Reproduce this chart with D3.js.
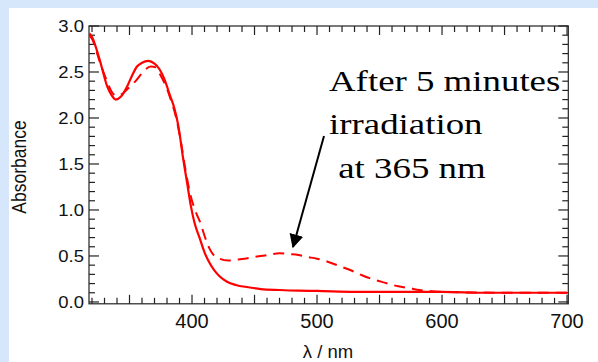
<!DOCTYPE html>
<html>
<head>
<meta charset="utf-8">
<script src="https://cdn.jsdelivr.net/npm/d3@7"></script>
<style>
  html, body { margin: 0; padding: 0; background: #d6e7fb; }
  svg { display: block; }
</style>
</head>
<body>
<svg id="chart" width="598" height="362"></svg>
<script>
// wavelengths (nm) and absorbance for the spectrum before irradiation (solid)
const solidLambda = [318, 320, 326, 332, 336, 339, 343, 348, 352, 356, 360, 365, 370, 374, 378, 382, 386, 389, 393, 396, 399, 402, 406, 410, 413, 418, 422, 428, 435, 445, 455, 470, 485, 500, 530, 560, 600, 618, 620, 660, 700];
const solidAbs    = [2.92, 2.88, 2.64, 2.35, 2.24, 2.20, 2.23, 2.34, 2.46, 2.56, 2.60, 2.62, 2.59, 2.53, 2.42, 2.26, 2.10, 1.92, 1.55, 1.30, 1.05, 0.86, 0.70, 0.54, 0.45, 0.34, 0.28, 0.22, 0.185, 0.16, 0.14, 0.13, 0.123, 0.12, 0.11, 0.11, 0.11, 0.105, 0.10, 0.10, 0.10];

// after 5 minutes irradiation at 365 nm (dashed)
const dashLambda = [318, 320, 326, 332, 336, 340, 344, 348, 352, 356, 362, 367, 371, 375, 379, 383, 387, 391, 395, 399, 403, 407, 410, 414, 418, 422, 429, 436, 442, 450, 460, 470, 478, 485, 492, 500, 508, 518, 526, 536, 545, 554, 565, 574, 582, 590, 600, 620, 660, 700];
const dashAbs    = [2.90, 2.86, 2.62, 2.40, 2.28, 2.24, 2.26, 2.31, 2.36, 2.42, 2.52, 2.56, 2.55, 2.46, 2.35, 2.20, 2.02, 1.75, 1.42, 1.15, 0.98, 0.85, 0.72, 0.58, 0.50, 0.47, 0.45, 0.46, 0.47, 0.49, 0.51, 0.53, 0.52, 0.51, 0.49, 0.47, 0.44, 0.39, 0.35, 0.29, 0.245, 0.21, 0.17, 0.15, 0.13, 0.12, 0.11, 0.105, 0.10, 0.10];

const xLabels = [400, 500, 600, 700];
const yLabels = [0.0, 0.5, 1.0, 1.5, 2.0, 2.5, 3.0];
const annotation = ["After 5 minutes", "irradiation", " at 365 nm"];

const svg = d3.select("#chart");

// white panel
svg.append("rect").attr("x", 9).attr("y", 8).attr("width", 589).attr("height", 354).attr("fill", "#fff");

const x = d3.scaleLinear().domain([317.6, 701]).range([89, 568.3]);
const y = d3.scaleLinear().domain([-0.02, 3.0]).range([303.8, 26]);

const plotLeft = x.range()[0], plotRight = x.range()[1];
const plotTop = y.range()[1], plotBottom = y.range()[0];

svg.append("clipPath").attr("id", "plot")
  .append("rect").attr("x", plotLeft).attr("y", plotTop).attr("width", plotRight - plotLeft).attr("height", plotBottom - plotTop);

const axisColor = "#222";
const g = svg.append("g");

// frame
g.append("rect").attr("x", plotLeft).attr("y", plotTop).attr("width", plotRight - plotLeft).attr("height", plotBottom - plotTop)
  .attr("fill", "none").attr("stroke", axisColor).attr("stroke-width", 1.2);

// x ticks (bottom pointing up, top pointing down)
const xTicks = d3.range(320, 701, 10);
xTicks.forEach(v => {
  const len = v % 50 === 0 ? 9 : 6;
  g.append("line").attr("x1", x(v)).attr("x2", x(v)).attr("y1", plotBottom).attr("y2", plotBottom - len)
    .attr("stroke", axisColor).attr("stroke-width", 1.2);
  g.append("line").attr("x1", x(v)).attr("x2", x(v)).attr("y1", plotTop).attr("y2", plotTop + len)
    .attr("stroke", axisColor).attr("stroke-width", 1.2);
});

// y ticks (left pointing right, right pointing left)
const yTicks = d3.range(0, 31).map(i => i / 10);
yTicks.forEach((v, i) => {
  const len = i % 5 === 0 ? 10 : 6;
  g.append("line").attr("x1", plotLeft).attr("x2", plotLeft + len).attr("y1", y(v)).attr("y2", y(v))
    .attr("stroke", axisColor).attr("stroke-width", 1.2);
  g.append("line").attr("x1", plotRight).attr("x2", plotRight - len).attr("y1", y(v)).attr("y2", y(v))
    .attr("stroke", axisColor).attr("stroke-width", 1.2);
});

// tick labels
xLabels.forEach(v => {
  g.append("text").attr("x", x(v)).attr("y", 328)
    .attr("text-anchor", "middle")
    .style("font-family", "Liberation Sans, Arial, sans-serif").style("font-size", "20px")
    .attr("fill", "#111").text(v);
});
yLabels.forEach(v => {
  g.append("text")
    .attr("transform", `translate(84,${y(v) + 6}) scale(1.12,1)`)
    .attr("text-anchor", "end")
    .style("font-family", "Liberation Sans, Arial, sans-serif").style("font-size", "16.5px")
    .attr("fill", "#111").text(v.toFixed(1));
});

// axis titles
svg.append("text")
  .attr("transform", "translate(26,167) scale(1.12,1) rotate(-90)")
  .attr("text-anchor", "middle")
  .style("font-family", "Liberation Sans, Arial, sans-serif").style("font-size", "17.5px")
  .attr("fill", "#111").text("Absorbance");
svg.append("text").attr("x", 328).attr("y", 358)
  .attr("text-anchor", "middle")
  .style("font-family", "Liberation Sans, Arial, sans-serif").style("font-size", "18.5px")
  .attr("fill", "#111").text("λ / nm");

// curves
const line = d3.line().x(d => x(d[0])).y(d => y(d[1])).curve(d3.curveMonotoneX);
const plot = svg.append("g").attr("clip-path", "url(#plot)");

plot.append("path").datum(d3.zip(dashLambda, dashAbs))
  .attr("d", line).attr("fill", "none").attr("stroke", "#ff0000")
  .attr("stroke-width", 2).attr("stroke-dasharray", "11,7");

plot.append("path").datum(d3.zip(solidLambda, solidAbs))
  .attr("d", line).attr("fill", "none").attr("stroke", "#ff0000")
  .attr("stroke-width", 2.2);

// annotation
const baselines = [91, 134, 178];
const starts = [329, 329, 329];
annotation.forEach((t, i) => {
  svg.append("text")
    .attr("transform", `translate(${starts[i]},${baselines[i]}) scale(1.25,1)`)
    .style("font-family", "Liberation Serif, Times New Roman, serif").style("font-size", "29.5px")
    .style("white-space", "pre")
    .attr("fill", "#000").text(t);
});

// arrow
svg.append("defs").append("marker")
  .attr("id", "head").attr("viewBox", "0 0 10 10").attr("refX", 9).attr("refY", 5)
  .attr("markerWidth", 7).attr("markerHeight", 7).attr("orient", "auto")
  .attr("markerUnits", "strokeWidth")
  .append("path").attr("d", "M0,0 L10,5 L0,10 z").attr("fill", "#000");
svg.append("line").attr("x1", 324).attr("y1", 136).attr("x2", 293).attr("y2", 247)
  .attr("stroke", "#000").attr("stroke-width", 2).attr("marker-end", "url(#head)");
</script>
</body>
</html>
